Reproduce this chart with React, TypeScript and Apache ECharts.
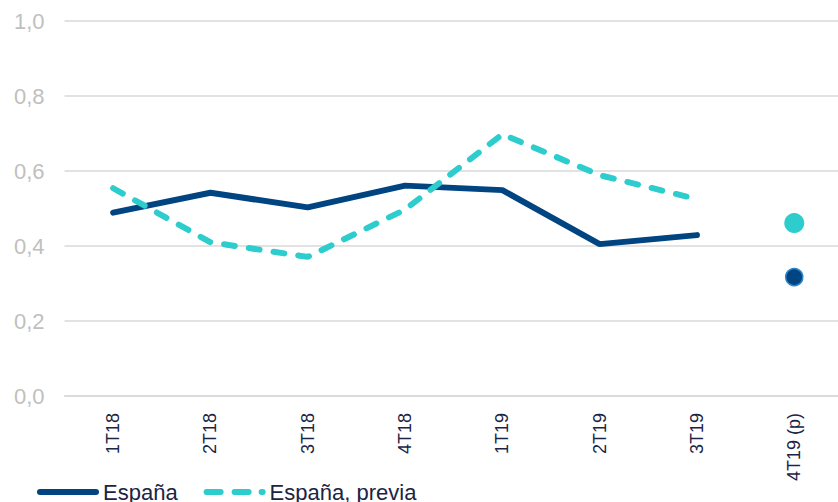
import React, { useEffect, useRef } from "react";
import * as echarts from "echarts";

const categories = ["1T18", "2T18", "3T18", "4T18", "1T19", "2T19", "3T19", "4T19 (p)"];
const espana = [0.489, 0.542, 0.503, 0.561, 0.549, 0.405, 0.429, null];
const espanaPrevia = [0.554, 0.41, 0.371, 0.497, 0.698, 0.589, 0.525, null];
const espanaForecast = [null, null, null, null, null, null, null, 0.317];
const previaForecast = [null, null, null, null, null, null, null, 0.461];
const yTicks = { min: 0, max: 1, interval: 0.2 };

const NAVY = "#004481";
const AQUA = "#2dcccd";
const TEXT = "#1a2544";

const solidIcon = "path://M3,0H59A3,3 0 0 1 59,6H3A3,3 0 0 1 3,0Z";
const dashedIcon =
  "path://M3,0H17A3,3 0 0 1 17,6H3A3,3 0 0 1 3,0Z M31,0H45A3,3 0 0 1 45,6H31A3,3 0 0 1 31,0Z M58,0H59A3,3 0 0 1 59,6H58A3,3 0 0 1 58,0Z";

export default function App() {
  const ref = useRef<HTMLDivElement>(null);
  useEffect(() => {
    if (!ref.current) return;
    const chart = echarts.init(ref.current, undefined, { renderer: "svg" });
    chart.setOption({
      animation: false,
      textStyle: { fontFamily: "Liberation Sans, Arial, sans-serif" },
      grid: { left: 64.5, top: 21, bottom: 106, width: 778.4 },
      legend: {
        data: [
          { name: "España", icon: solidIcon, itemStyle: { color: NAVY } },
          { name: "España, previa", icon: dashedIcon, itemStyle: { color: AQUA } },
        ],
        left: 37,
        top: 481,
        padding: 0,
        itemWidth: 62,
        itemHeight: 6,
        itemGap: 26,
        textStyle: { fontSize: 22, color: TEXT, padding: [0, 0, 0, -1], lineHeight: 22 },
      },
      xAxis: {
        type: "category",
        data: categories,
        axisLine: { lineStyle: { color: "#d9d9d9", width: 1.5 } },
        axisTick: { length: 11, lineStyle: { color: "#d9d9d9", width: 1.5 } },
        axisLabel: { rotate: 90, fontSize: 18, color: TEXT, margin: 17 },
      },
      yAxis: {
        type: "value",
        min: yTicks.min,
        max: yTicks.max,
        interval: yTicks.interval,
        axisLine: { show: false },
        axisTick: { show: false },
        splitLine: { lineStyle: { color: "#d9d9d9", width: 1.5 } },
        axisLabel: {
          fontSize: 22,
          color: "#bfbfbf",
          margin: 20,
          formatter: (v: number) => v.toFixed(1).replace(".", ","),
        },
      },
      series: [
        {
          name: "España",
          type: "line",
          data: espana,
          symbol: "none",
          lineStyle: { color: NAVY, width: 6, cap: "round" },
          itemStyle: { color: NAVY },
        },
        {
          name: "España, previa",
          type: "line",
          data: espanaPrevia,
          symbol: "none",
          lineStyle: { color: AQUA, width: 6, type: [11, 14], cap: "round" },
          itemStyle: { color: AQUA },
        },
        {
          name: "España (p)",
          type: "line",
          data: espanaForecast,
          symbol: "circle",
          symbolSize: 17,
          showSymbol: true,
          lineStyle: { width: 0 },
          itemStyle: { color: NAVY, borderColor: "#2a86ca", borderWidth: 1.5 },
        },
        {
          name: "España, previa (p)",
          type: "line",
          data: previaForecast,
          symbol: "circle",
          symbolSize: 20,
          showSymbol: true,
          lineStyle: { width: 0 },
          itemStyle: { color: AQUA },
        },
      ],
    });
    return () => chart.dispose();
  }, []);
  return (
    <div style={{ position: "absolute", left: 0, top: 0, width: 838, height: 502, overflow: "hidden" }}>
      <div ref={ref} style={{ width: 850, height: 502 }} />
    </div>
  );
}
